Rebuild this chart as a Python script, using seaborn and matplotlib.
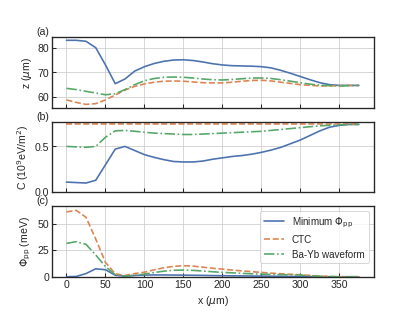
import numpy as np
import pandas as pd
import matplotlib.pyplot as plt
import seaborn as sns

# DATA
x_um = [0, 12.5, 25, 37.5, 50, 62.5, 75, 87.5, 100, 112.5, 125, 137.5, 150, 162.5,
        175, 187.5, 200, 212.5, 225, 237.5, 250, 262.5, 275, 287.5, 300, 312.5,
        325, 337.5, 350, 362.5, 375]

# (a) trap height z (um)
z_min = [83.0, 83.0, 82.6, 80.0, 73.0, 65.4, 67.3, 70.5, 72.3, 73.6, 74.5, 75.0, 75.1, 74.8,
         74.2, 73.5, 73.0, 72.7, 72.6, 72.5, 72.3, 71.8, 70.8, 69.6, 68.3, 67.0,
         65.8, 65.0, 64.7, 64.7, 64.7]
z_ctc = [58.8, 57.8, 57.0, 57.3, 58.8, 60.8, 62.8, 64.3, 65.3, 66.0, 66.4, 66.5, 66.4, 66.1,
         65.8, 65.7, 65.7, 66.0, 66.4, 66.7, 66.8, 66.5, 66.0, 65.5, 65.0, 64.7,
         64.5, 64.5, 64.6, 64.7, 64.7]
z_bayb = [63.5, 63.0, 62.3, 61.6, 60.9, 61.3, 63.0, 65.0, 66.6, 67.5, 68.0, 68.1, 68.0, 67.7,
          67.3, 67.0, 66.9, 67.1, 67.4, 67.7, 67.7, 67.5, 67.0, 66.4, 65.8, 65.2,
          64.8, 64.6, 64.5, 64.6, 64.7]

# (b) curvature C (1e9 eV/m^2)
c_min = [0.11, 0.105, 0.10, 0.13, 0.30, 0.47, 0.50, 0.455, 0.41, 0.38, 0.355, 0.335, 0.33, 0.33,
         0.34, 0.36, 0.375, 0.39, 0.40, 0.415, 0.435, 0.46, 0.49, 0.53, 0.57, 0.62,
         0.67, 0.71, 0.73, 0.74, 0.74]
c_ctc = [0.74] * 31
c_bayb = [0.50, 0.495, 0.49, 0.50, 0.60, 0.67, 0.675, 0.665, 0.655, 0.645, 0.64, 0.635, 0.63, 0.63,
          0.635, 0.64, 0.645, 0.65, 0.655, 0.66, 0.665, 0.675, 0.685, 0.695, 0.705, 0.715,
          0.725, 0.73, 0.735, 0.74, 0.74]

# (c) pseudopotential Phi_pp (meV)
p_min = [0.0, 0.3, 3.0, 7.5, 6.6, 1.5, 0.5, 1.2, 1.6, 1.7, 1.7, 1.6, 1.5, 1.4,
         1.3, 1.1, 1.0, 0.9, 0.8, 0.7, 0.6, 0.5, 0.4, 0.3, 0.2, 0.1,
         0.05, 0.0, 0.0, 0.0, 0.0]
p_ctc = [61.0, 62.5, 56.0, 35.5, 13.5, 2.8, 1.2, 3.0, 4.3, 6.5, 8.5, 9.8, 10.4, 10.0,
         9.0, 8.0, 7.2, 6.3, 5.5, 4.8, 4.1, 3.4, 2.8, 2.3, 1.9, 1.2,
         0.6, 0.2, 0.0, 0.0, 0.0]
p_bayb = [31.4, 33.0, 30.5, 20.5, 9.5, 2.0, 0.6, 1.5, 2.5, 4.0, 5.3, 6.1, 6.3, 6.0,
          5.4, 4.7, 4.1, 3.7, 3.2, 2.8, 2.5, 2.2, 2.0, 1.8, 1.6, 1.0,
          0.5, 0.2, 0.0, 0.0, 0.0]

labels = [r'Minimum $\Phi_{\rm pp}$', 'CTC', 'Ba-Yb waveform']
ylabels = [r'z ($\mu$m)', r'C (10$^9$eV/m$^2$)', r'$\Phi_{\rm pp}$ (meV)']
panel_tags = ['(a)', '(b)', '(c)']

# STYLE
sns.set_style('whitegrid', {
    'axes.edgecolor': '.15',
    'xtick.bottom': True, 'ytick.left': True,
    'xtick.direction': 'in', 'ytick.direction': 'in',
    'xtick.color': '.15', 'ytick.color': '.15',
})
plt.rcParams['font.family'] = ['Liberation Sans', 'DejaVu Sans']
plt.rcParams['font.size'] = 10.5
plt.rcParams['axes.labelsize'] = 11
plt.rcParams['xtick.labelsize'] = 11
plt.rcParams['ytick.labelsize'] = 11
plt.rcParams['legend.fontsize'] = 10.3
plt.rcParams['axes.linewidth'] = 1.4

pal = sns.color_palette('deep')
styles = ['-', '--', '-.']

panels = [
    (z_min, z_ctc, z_bayb),
    (c_min, c_ctc, c_bayb),
    (p_min, p_ctc, p_bayb),
]

fig, axes = plt.subplots(3, 1, figsize=(6, 4.5), sharex=True)

for i, ax in enumerate(axes):
    for j, vals in enumerate(panels[i]):
        df = pd.DataFrame({'x': x_um, 'y': vals})
        sns.lineplot(data=df, x='x', y='y', ax=ax, color=pal[j], linestyle=styles[j],
                     linewidth=1.7, label=labels[j] if i == 2 else None)
    ax.set_ylabel(ylabels[i])
    ax.set_xlabel('')
    ax.text(-0.047, 1.005, panel_tags[i], transform=ax.transAxes, ha='left', va='bottom',
            fontsize=11)
    ax.tick_params(axis='both', length=4, width=1.1, pad=3)

axes[0].set_yticks([60, 70, 80])
axes[1].set_ylim(0, 0.77)
axes[1].set_yticks([0.0, 0.5])
axes[2].set_ylim(0, 66.3)
axes[2].set_yticks([0, 25, 50])
axes[2].set_xticks([0, 50, 100, 150, 200, 250, 300, 350])
axes[2].set_xlabel(r'x ($\mu$m)')
axes[2].legend(loc='upper right')

fig.savefig('out.png', dpi=415 / 6)
